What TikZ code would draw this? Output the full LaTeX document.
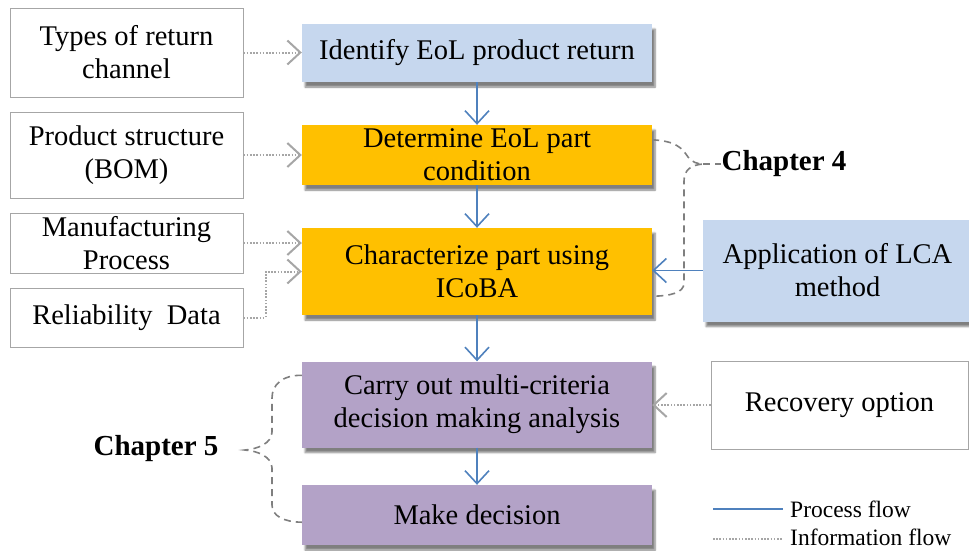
\documentclass[tikz,border=0pt]{standalone}
\usepackage{fontspec}
\setmainfont{Liberation Serif}
\usetikzlibrary{arrows.meta,shadows.blur}

\definecolor{lblue}{HTML}{C6D7EE}
\definecolor{gold}{HTML}{FFC000}
\definecolor{lilac}{HTML}{B3A2C7}
\definecolor{flowblue}{HTML}{4F81BD}
\definecolor{infogray}{HTML}{A6A6A6}
\definecolor{framegray}{HTML}{A6A6A6}
\definecolor{bracegray}{HTML}{7F7F7F}

\begin{document}
\begin{tikzpicture}[x=1pt,y=-1pt,
  txt/.style={font=\fontsize{28.5}{33}\selectfont, align=center, inner sep=0pt},
  srcbox/.style={txt, draw=framegray, line width=1pt, fill=white},
  stepbox/.style={txt, minimum width=350pt,
    blur shadow={shadow xshift=3pt, shadow yshift=-5pt, shadow blur steps=6, shadow opacity=50}},
  process/.style={draw=flowblue, line width=1.6pt,
    -{Straight Barb[length=13pt,width=24pt]}},
  info/.style={draw=infogray, line width=2pt, dash pattern=on 1.6pt off 1.6pt,
    -{Straight Barb[length=13pt,width=24pt]}},
  bracepath/.style={draw=bracegray, line width=1.6pt, dash pattern=on 7pt off 5pt},
  chap/.style={font=\fontsize{29}{33}\selectfont\bfseries, inner sep=0pt},
  legendtext/.style={font=\fontsize{23.5}{28}\selectfont, inner sep=0pt, anchor=west}
]
\useasboundingbox (0,0) rectangle (969,550);

% input boxes on the left
\node[srcbox, minimum width=233pt, minimum height=89pt] (typ) at (126.5,52.5) {Types of return\\channel};
\node[srcbox, minimum width=233pt, minimum height=86pt] (bom) at (126.5,155) {Product structure\\(BOM)};
\node[srcbox, minimum width=233pt, minimum height=60pt] (man) at (126.5,243) {Manufacturing\\Process};
\node[srcbox, minimum width=233pt, minimum height=59pt] (rel) at (126.5,317.5) {Reliability\ \ Data};

% main process steps
\node[stepbox, fill=lblue, minimum height=58pt] (idn) at (477,53) {Identify EoL product return};
\node[stepbox, fill=gold, minimum height=60pt] (det) at (477,155) {Determine EoL part\\condition};
\node[stepbox, fill=gold, minimum height=87pt] (cha) at (477,271.5) {Characterize part using\\ICoBA};
\node[stepbox, fill=lilac, minimum height=86pt] (car) at (477,404.5) {Carry out multi-criteria\\decision making analysis};
\node[stepbox, fill=lilac, minimum height=60pt] (mak) at (477,515) {Make decision};

% inputs on the right
\node[txt, fill=lblue, minimum width=269pt, minimum height=102pt,
  blur shadow={shadow xshift=3pt, shadow yshift=-5pt, shadow blur steps=6, shadow opacity=50}]
  (lca) at (837.5,270.5) {Application of LCA\\method};
\node[srcbox, minimum width=257pt, minimum height=88pt] (rec) at (839.5,405) {Recovery option};

% chapter labels
\node[chap] (ch4) at (784,164) {Chapter 4};
\node[chap] (ch5) at (156,449) {Chapter 5};

% process flow
\draw[process] (idn) -- (det);
\draw[process] (det) -- (cha);
\draw[process] (cha) -- (car);
\draw[process] (car) -- (mak);
\draw[process] (lca.west) -- (lca.west -| cha.east);

% information flow
\draw[info] (typ.east) -- (typ.east -| idn.west);
\draw[info] (bom.east) -- (bom.east -| det.west);
\draw[info] (man.east) -- (man.east -| cha.west);
\draw[info] (rel.east) -- ++(22,0) |- (cha.west);
\draw[info] (rec.west) -- (rec.west -| car.east);

% brace grouping the Chapter 4 steps
\coordinate (b4top) at ([yshift=-15pt]det.north east);
\coordinate (b4bot) at ([yshift=19pt]cha.south east);
\coordinate (b4tip) at (703,164);
\draw[bracepath] (b4top) .. controls (676,141) and (682,148) .. (688,157)
  .. controls (692,162) and (697,164) .. (b4tip)
  .. controls (692,165) and (684,169) .. (684,181) -- (684,283)
  .. controls (684,293) and (670,296) .. (b4bot);
\draw[bracepath] (b4tip) -- (ch4.west);

% brace grouping the Chapter 5 steps
\coordinate (b5top) at ([yshift=-14pt]car.north west);
\coordinate (b5bot) at ([yshift=23pt]mak.south west);
\coordinate (b5tip) at (245,450);
\draw[bracepath] (b5top) .. controls (282,375) and (272,385) .. (272,398) -- (272,432)
  .. controls (272,443) and (258,449) .. (b5tip)
  .. controls (258,451) and (272,457) .. (272,468) -- (272,505)
  .. controls (272,516) and (284,522) .. (b5bot);

% legend
\coordinate (lp1) at (713,509);
\coordinate (lp2) at (783,509);
\coordinate (li1) at (713,539);
\coordinate (li2) at (783,539);
\draw[draw=flowblue, line width=1.6pt] (lp1) -- (lp2);
\draw[draw=infogray, line width=2pt, dash pattern=on 1.6pt off 1.6pt] (li1) -- (li2);
\node[legendtext] (lgp) at (790,509) {Process flow};
\node[legendtext] (lgi) at (790,537) {Information flow};
\end{tikzpicture}
\end{document}
